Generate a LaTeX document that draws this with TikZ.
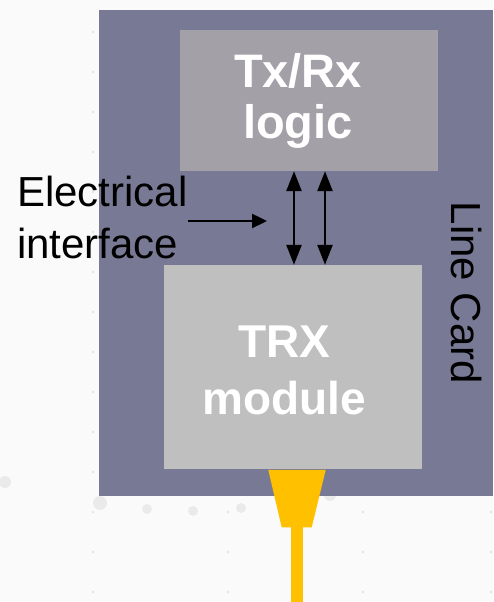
\documentclass[tikz,border=0pt]{standalone}
\usepackage{fontspec}
\setmainfont{Liberation Sans}
\usepackage{tikz}
\usetikzlibrary{arrows.meta,positioning,calc}
\definecolor{pagewhite}{RGB}{250,250,250}
\definecolor{dotgrey}{RGB}{226,226,226}
\definecolor{blotgrey}{RGB}{234,234,234}
\definecolor{cardslate}{RGB}{120,121,148}
\definecolor{logicgrey}{RGB}{163,160,168}
\definecolor{modulegrey}{RGB}{191,191,191}
\definecolor{fibreyellow}{RGB}{255,192,0}
\tikzset{
    blockbox/.style={rectangle, inner sep=0pt, minimum width=258pt},
    blocktext/.style={text=white, align=center, inner sep=0pt},
    linkarrow/.style={line width=2.4pt, {Triangle[length=20pt,width=15pt]}-{Triangle[length=20pt,width=15pt]}},
    pointarrow/.style={line width=2.4pt, -{Triangle[length=15pt,width=14pt]}}
}

\begin{document}
\begin{tikzpicture}[x=1pt,y=1pt]
    \fill[pagewhite] (0,0) rectangle (493,602);
    \useasboundingbox (0,0) rectangle (493,602);
    \foreach \dx in {93,228,363,491} {
        \foreach \dy in {10,50,...,570} {
            \fill[dotgrey] (\dx,\dy) circle (1.3pt);
        }
    }
    \foreach \cx/\cy/\cr in {5/120/6,100/99/7,147/93/5,193/91/5,241/94/5,330/107/6} {
        \fill[blotgrey] (\cx,\cy) circle (\cr pt);
    }

    \node[
        fill=cardslate,
        inner sep=0pt,
        minimum width=394pt,
        minimum height=486pt
    ] (card) at (296,349) {};

    \node[blockbox, fill=logicgrey, minimum height=141pt] (logic) at (309,501.5) {};
    \node[blockbox, fill=modulegrey, minimum height=204pt] (trx) at (293,235) {};

    \node[blocktext, font=\fontsize{47}{51}\selectfont\bfseries]
        (logictext) at ([xshift=-11pt]logic.center) {Tx/Rx\\logic};
    \node[blocktext, font=\fontsize{46}{57}\selectfont\bfseries]
        (trxtext) at ([xshift=-9pt,yshift=-3pt]trx.center) {TRX\\module};

    \node[
        align=left,
        anchor=base west,
        inner sep=0pt,
        font=\fontsize{42}{52}\selectfont
    ] (elec) at (17,343) {Electrical\\interface};

    \node[rotate=-90, inner sep=0pt, font=\fontsize{42}{50}\selectfont]
        (cardlabel) at (466.5,309) {Line Card};

    \draw[linkarrow] ([xshift=-15pt]logic.south) -- ([xshift=-15pt]logic.south |- trx.north);
    \draw[linkarrow] ([xshift=16pt]logic.south) -- ([xshift=16pt]logic.south |- trx.north);

    \coordinate (ifpoint) at (267,381);
    \draw[pointarrow] (elec.east |- ifpoint) -- (ifpoint);

    \fill[fibreyellow] (268.3,132) -- (325.7,132) -- (311.7,74.7) -- (281.7,74.7) -- cycle;
    \fill[fibreyellow] (290.7,74.7) rectangle (302.7,0);
\end{tikzpicture}
\end{document}
